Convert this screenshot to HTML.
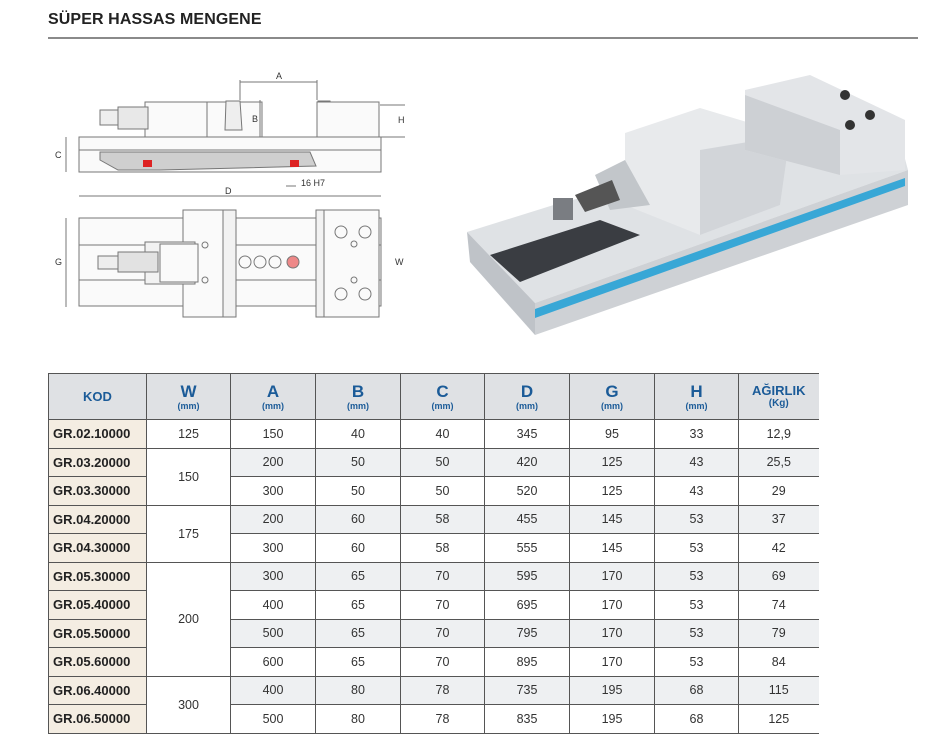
<!DOCTYPE html>
<html><head><meta charset="utf-8"><style>
body{margin:0;width:949px;height:752px;background:#fff;position:relative;overflow:hidden;font-family:"Liberation Sans",sans-serif}
.title{position:absolute;left:48px;top:11px;font-size:16px;font-weight:bold;color:#222;letter-spacing:0.1px}
.rule{position:absolute;left:48px;top:37px;width:870px;height:2px;background:#8a8a8a}
table{position:absolute;left:48px;top:373px;border-collapse:collapse;table-layout:fixed}
td,th{border:1.5px solid #555;text-align:center;padding:0;font-size:12.5px;color:#333}
th{background:#dfe1e4;height:45px;color:#1b5b98;font-weight:bold;line-height:1}
th b{font-size:17px;display:block}
th small{font-size:9px;display:block;margin-top:2px}
tr{height:28.5px}
tr.h{height:46px}
td.k{background:#f4ede2;font-weight:bold;font-size:13px;color:#222;text-align:left;padding-left:4px}
tr.g td{background:#eef0f2}
tr.g td.w, td.w{background:#fff}
tr.g td.k{background:#f4ede2}
td.last,th.last{border-right:none}
</style></head><body>
<div class="title">SÜPER HASSAS MENGENE</div>
<div class="rule"></div>

<svg style="position:absolute;left:0;top:0" width="949" height="360">
<g fill="none" stroke="#777" stroke-width="1">
<rect x="79" y="137" width="302" height="35" fill="#fafafa"/>
<line x1="79" y1="150" x2="381" y2="150"/>
<path d="M100 152 L310 152 L316 166 L160 170 L118 170 L100 160Z" fill="#cfcfcf"/>
<rect x="145" y="102" width="62" height="35" fill="#fafafa"/>
<rect x="207" y="102" width="55" height="35" fill="#fafafa"/>
<rect x="118" y="107" width="30" height="22" fill="#e8e8e8"/>
<rect x="100" y="110" width="18" height="15" fill="#eee"/>
<path d="M226 101 L240 101 L242 130 L225 130Z" fill="#eee"/>
<path d="M318 101 L330 101 L337 130 L318 130Z" fill="#eee"/>
<rect x="317" y="102" width="62" height="35" fill="#fafafa"/>
<line x1="240" y1="82" x2="317" y2="82"/>
<line x1="240" y1="80" x2="240" y2="100"/><line x1="317" y1="80" x2="317" y2="100"/>
<line x1="260" y1="100" x2="260" y2="137"/>
<line x1="380" y1="105" x2="405" y2="105"/><line x1="380" y1="137" x2="405" y2="137"/>
<line x1="66" y1="137" x2="66" y2="172"/>
<line x1="79" y1="196" x2="381" y2="196"/>
<line x1="286" y1="186" x2="296" y2="186"/>
<line x1="66" y1="218" x2="66" y2="307"/>
<rect x="79" y="218" width="302" height="88" fill="#fafafa"/>
<line x1="79" y1="245" x2="381" y2="245"/><line x1="79" y1="280" x2="381" y2="280"/>
<rect x="183" y="210" width="53" height="107" fill="#fafafa"/>
<rect x="223" y="210" width="13" height="107" fill="#f2f2f2"/>
<rect x="316" y="210" width="63" height="107" fill="#fafafa"/>
<rect x="316" y="210" width="8" height="107" fill="#f2f2f2"/>
<rect x="145" y="242" width="50" height="42" fill="#f2f2f2"/>
<rect x="160" y="244" width="38" height="38" fill="#fafafa"/>
<rect x="118" y="252" width="40" height="20" fill="#e2e2e2"/>
<rect x="98" y="256" width="20" height="13" fill="#eee"/>
<circle cx="245" cy="262" r="6"/><circle cx="260" cy="262" r="6"/><circle cx="275" cy="262" r="6"/>
<circle cx="293" cy="262" r="6" fill="#e88"/>
<circle cx="341" cy="232" r="6"/><circle cx="365" cy="232" r="6"/>
<circle cx="341" cy="294" r="6"/><circle cx="365" cy="294" r="6"/>
<circle cx="354" cy="244" r="3"/><circle cx="354" cy="280" r="3"/>
<circle cx="205" cy="245" r="3"/><circle cx="205" cy="280" r="3"/>
</g>
<rect x="143" y="160" width="9" height="7" fill="#d22"/>
<rect x="290" y="160" width="9" height="7" fill="#d22"/>
<g font-size="9" fill="#333" font-family="Liberation Sans">
<text x="276" y="79">A</text><text x="252" y="122">B</text><text x="398" y="123">H</text>
<text x="55" y="158">C</text><text x="225" y="194">D</text><text x="301" y="186">16 H7</text>
<text x="55" y="265">G</text><text x="395" y="265">W</text></g>

<polygon points="467,232 560,203 895,122 908,170 535,303" fill="#dfe2e5"/>
<polygon points="467,232 535,303 535,335 470,262" fill="#bfc3c8"/>
<polygon points="535,303 908,170 908,205 535,335" fill="#ced1d5"/>
<polygon points="535,309 905,178 905,186 535,318" fill="#38a7d6"/>
<polygon points="490,255 600,220 640,235 520,282" fill="#3a3d42"/>
<polygon points="625,133 700,108 790,135 780,205 700,235 625,205" fill="#e8eaec"/>
<polygon points="700,150 790,135 780,205 700,235" fill="#d2d5d9"/>
<polygon points="745,90 810,75 905,120 905,170 840,175 745,150" fill="#e3e5e8"/>
<polygon points="745,95 840,130 840,175 745,150" fill="#cdd0d4"/>
<polygon points="595,175 625,160 650,205 610,210" fill="#c2c6ca"/>
<polygon points="575,195 612,180 620,200 585,212" fill="#555"/>
<rect x="553" y="198" width="20" height="22" fill="#7a7d82"/>
<circle cx="845" cy="95" r="5" fill="#333"/><circle cx="870" cy="115" r="5" fill="#333"/><circle cx="850" cy="125" r="5" fill="#333"/>
</svg>

<table>
<colgroup><col style="width:98px"><col style="width:84px"><col style="width:85px"><col style="width:85px"><col style="width:84px"><col style="width:85px"><col style="width:85px"><col style="width:84px"><col style="width:80px"></colgroup>
<tr class="h"><th style="font-size:13px">KOD</th><th><b>W</b><small>(mm)</small></th><th><b>A</b><small>(mm)</small></th><th><b>B</b><small>(mm)</small></th><th><b>C</b><small>(mm)</small></th><th><b>D</b><small>(mm)</small></th><th><b>G</b><small>(mm)</small></th><th><b>H</b><small>(mm)</small></th><th class="last" style="font-size:13px">AĞIRLIK<small style="font-size:10px">(Kg)</small></th></tr>
<tr><td class="k">GR.02.10000</td><td class="w">125</td><td>150</td><td>40</td><td>40</td><td>345</td><td>95</td><td>33</td><td class="last">12,9</td></tr>
<tr class="g"><td class="k">GR.03.20000</td><td class="w" rowspan="2">150</td><td>200</td><td>50</td><td>50</td><td>420</td><td>125</td><td>43</td><td class="last">25,5</td></tr>
<tr><td class="k">GR.03.30000</td><td>300</td><td>50</td><td>50</td><td>520</td><td>125</td><td>43</td><td class="last">29</td></tr>
<tr class="g"><td class="k">GR.04.20000</td><td class="w" rowspan="2">175</td><td>200</td><td>60</td><td>58</td><td>455</td><td>145</td><td>53</td><td class="last">37</td></tr>
<tr><td class="k">GR.04.30000</td><td>300</td><td>60</td><td>58</td><td>555</td><td>145</td><td>53</td><td class="last">42</td></tr>
<tr class="g"><td class="k">GR.05.30000</td><td class="w" rowspan="4">200</td><td>300</td><td>65</td><td>70</td><td>595</td><td>170</td><td>53</td><td class="last">69</td></tr>
<tr><td class="k">GR.05.40000</td><td>400</td><td>65</td><td>70</td><td>695</td><td>170</td><td>53</td><td class="last">74</td></tr>
<tr class="g"><td class="k">GR.05.50000</td><td>500</td><td>65</td><td>70</td><td>795</td><td>170</td><td>53</td><td class="last">79</td></tr>
<tr><td class="k">GR.05.60000</td><td>600</td><td>65</td><td>70</td><td>895</td><td>170</td><td>53</td><td class="last">84</td></tr>
<tr class="g"><td class="k">GR.06.40000</td><td class="w" rowspan="2">300</td><td>400</td><td>80</td><td>78</td><td>735</td><td>195</td><td>68</td><td class="last">115</td></tr>
<tr><td class="k">GR.06.50000</td><td>500</td><td>80</td><td>78</td><td>835</td><td>195</td><td>68</td><td class="last">125</td></tr>
</table>
</body></html>
